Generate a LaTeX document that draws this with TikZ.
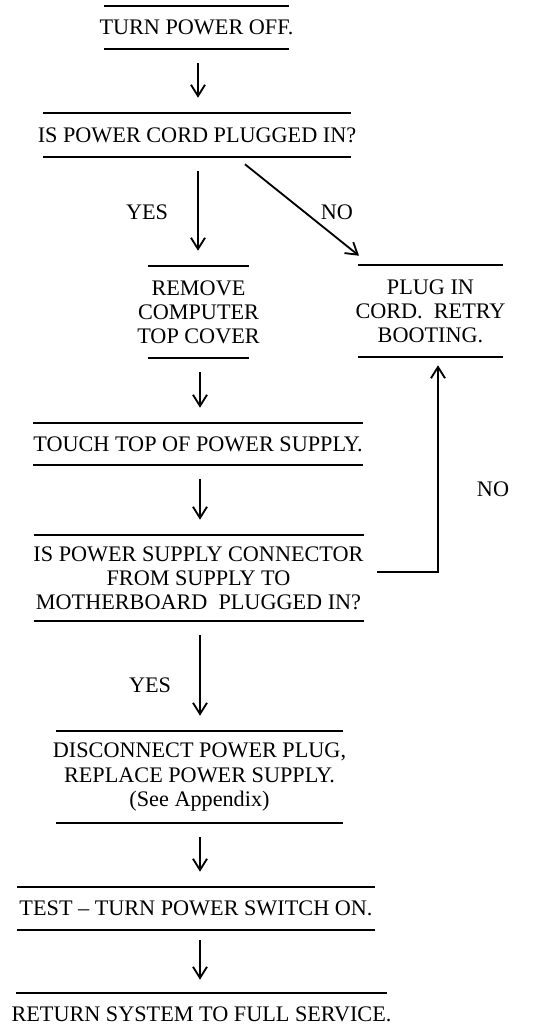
\documentclass[tikz,border=0pt]{standalone}
\usepackage{fontspec}
\setmainfont{Liberation Serif}
\usetikzlibrary{arrows.meta,positioning}
\def\u{0.025cm}
\tikzset{
  stage/.style={
    inner sep = 0pt,
    align = center,
    font = \fontsize{15.8}{17.1}\selectfont,
    minimum height = #1*\u
  },
  bars/.style={
    append after command={
      ([xshift=-#1*\u]\tikzlastnode.north) edge[rule] ([xshift=#1*\u]\tikzlastnode.north)
      ([xshift=-#1*\u]\tikzlastnode.south) edge[rule] ([xshift=#1*\u]\tikzlastnode.south)
    }
  },
  rule/.style={
    line width = 1.2pt,
    -
  },
  flow/.style={
    line width = 1.3pt,
    -{Straight Barb[length=8pt,width=10pt,line width=1.3pt]},
    shorten <= 14*\u,
    shorten >= 15*\u
  },
  tag/.style={
    font = \fontsize{15.8}{17.1}\selectfont,
    inner sep = 0pt
  }
}
\begin{document}
\begin{tikzpicture}[x=\u, y=-\u]
    \useasboundingbox (0,0) rectangle (537,1027);
    % main column
    \node[stage=43, bars=92.5] (off) at (196.5, 27.5) {TURN POWER OFF.};
    \node[stage=44, bars=154] (cord) at (197, 135) {IS POWER CORD PLUGGED IN?};
    \node[stage=92, bars=50.5] (cover) at (198.5, 312) {REMOVE\\COMPUTER\\TOP COVER};
    \node[stage=92, bars=72.5] (plug) at (430.5, 311) {PLUG IN\\CORD.\ \ RETRY\\BOOTING.};
    \node[stage=42, bars=165] (touch) at (198, 444) {TOUCH TOP OF POWER SUPPLY.};
    \node[stage=86, bars=165] (conn) at (198.5, 578) {IS POWER SUPPLY CONNECTOR\\FROM SUPPLY TO\\MOTHERBOARD\ \ PLUGGED IN?};
    \node[stage=92, bars=143.5] (supply) at (199.5, 777) {DISCONNECT POWER PLUG,\\REPLACE POWER SUPPLY.\\(See Appendix)};
    \node[stage=43, bars=179] (test) at (196, 908.5) {TEST -- TURN POWER SWITCH ON.};
    \node[stage=43, bars=185.5] (service) at (201.5, 1014.5) {RETURN SYSTEM TO FULL SERVICE.};

    % answers
    \node[tag] (yes1) at (147, 212) {YES};
    \node[tag] (no1) at (337, 212) {NO};
    \node[tag] (no2) at (493, 489) {NO};
    \node[tag] (yes2) at (150, 685) {YES};

    \draw[flow] ([xshift=1.5*\u]off.south) -- ([xshift=1.5*\u]off.south |- cord.north);
    \draw[flow] ([xshift=1*\u]cord.south) -- ([xshift=1*\u]cord.south |- cover.north);
    \draw[flow, shorten <=0pt, shorten >=0pt] ([xshift=48*\u, yshift=-7*\u]cord.south) -- ([xshift=-71.5*\u, yshift=9*\u]plug.north);
    \draw[flow] ([xshift=1.5*\u]cover.south) -- ([xshift=1.5*\u]cover.south |- touch.north);
    \draw[flow] ([xshift=2*\u]touch.south) -- ([xshift=2*\u]touch.south |- conn.north);
    \draw[flow, shorten <=0pt, shorten >=8*\u] ([xshift=13*\u, yshift=6*\u]conn.east) -| ([xshift=7.5*\u]plug.south);
    \draw[flow] ([xshift=1.5*\u]conn.south) -- ([xshift=1.5*\u]conn.south |- supply.north);
    \draw[flow] ([xshift=0.5*\u]supply.south) -- ([xshift=0.5*\u]supply.south |- test.north);
    \draw[flow, shorten <=10*\u, shorten >=13*\u] ([xshift=4*\u]test.south) -- ([xshift=4*\u]test.south |- service.north);
\end{tikzpicture}
\end{document}
